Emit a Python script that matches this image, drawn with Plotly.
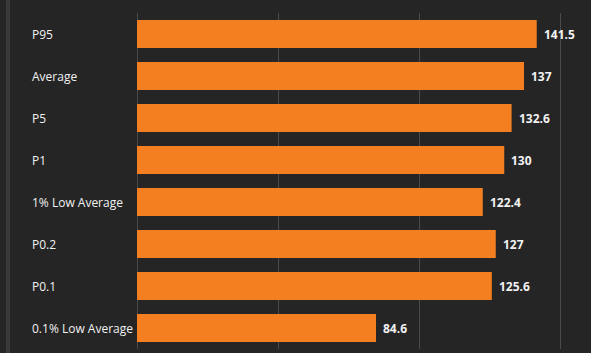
import plotly.graph_objects as go

categories = ["P95", "Average", "P5", "P1", "1% Low Average", "P0.2", "P0.1", "0.1% Low Average"]
values = [141.5, 137, 132.6, 130, 122.4, 127, 125.6, 84.6]
value_labels = ["141.5", "137", "132.6", "130", "122.4", "127", "125.6", "84.6"]

BG = "#252525"
BAR = "#f37f20"
GRID = "#4a4a4a"
TXT = "#f2f2f2"

W, H = 591, 353
ML, MR, MT, MB = 137, 2, 13, 4
pw = W - ML - MR

fig = go.Figure()
fig.add_trace(go.Bar(
    x=values, y=categories, orientation="h",
    marker=dict(color=BAR, line=dict(width=0)),
    width=0.667, hoverinfo="skip",
))

annotations = []
for c, v, lab in zip(categories, values, value_labels):
    annotations.append(dict(x=v, y=c, xref="x", yref="y", text="<b>%s</b>" % lab,
                            showarrow=False, xanchor="left", yanchor="middle", xshift=5,
                            font=dict(family="Open Sans, sans-serif", size=12, color=TXT)))
    annotations.append(dict(x=-(ML - 30) / pw, y=c, xref="paper", yref="y", text=c,
                            showarrow=False, xanchor="left", yanchor="middle",
                            font=dict(family="Open Sans, sans-serif", size=12, color=TXT)))

fig.update_layout(
    width=W, height=H,
    margin=dict(l=ML, r=MR, t=MT, b=MB, pad=0),
    paper_bgcolor=BG, plot_bgcolor=BG,
    showlegend=False,
    bargap=0.333,
    xaxis=dict(range=[0, 160], tickvals=[0, 50, 100, 150], showticklabels=False,
               showgrid=True, gridcolor=GRID, gridwidth=1, zeroline=True,
               zerolinecolor=GRID, zerolinewidth=1, showline=False, fixedrange=True),
    yaxis=dict(autorange="reversed", showticklabels=False, showgrid=False,
               zeroline=False, showline=False, fixedrange=True),
    annotations=annotations,
    shapes=[dict(type="rect", xref="paper", yref="paper",
                 x0=-(ML - 6) / pw, x1=-(ML - 10) / pw, y0=-MB / (H - MT - MB), y1=1 + MT / (H - MT - MB),
                 fillcolor="#3a3a3a", line=dict(width=0), layer="below")],
)

fig.write_html("out.html", config={"displayModeBar": False})
